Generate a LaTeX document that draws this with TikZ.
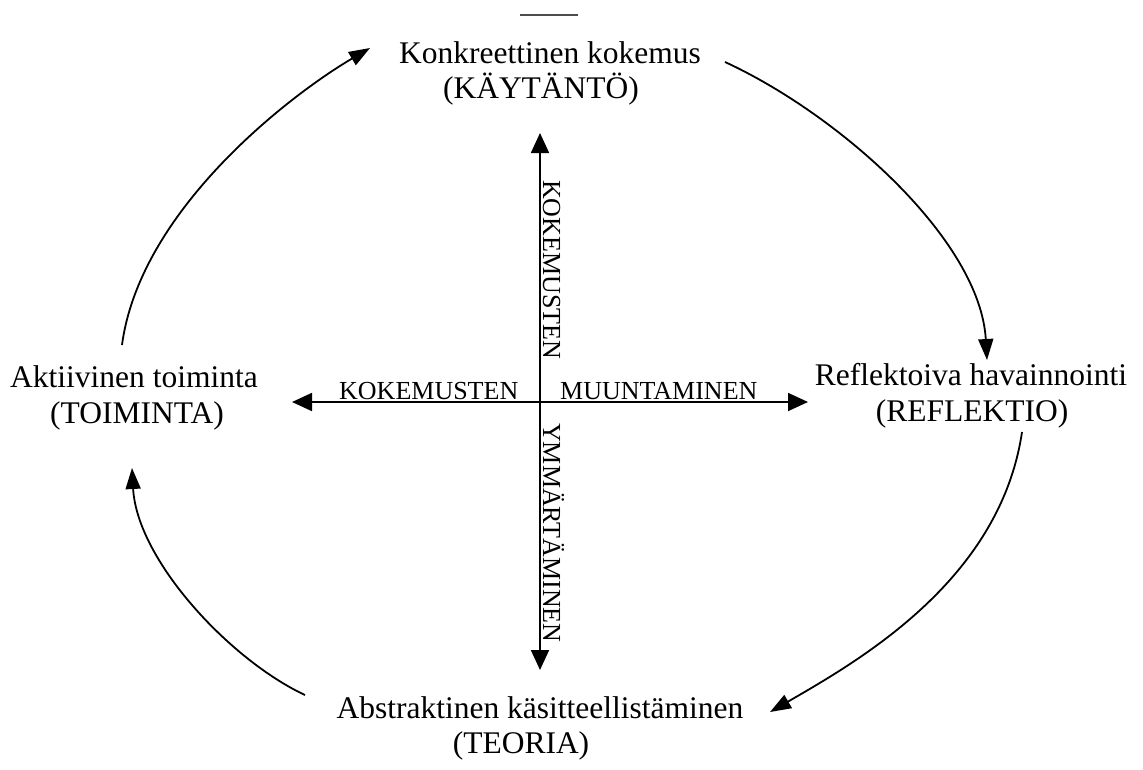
\documentclass[tikz,border=0pt]{standalone}
\usepackage{fontspec}
\setmainfont{Liberation Serif}
\usetikzlibrary{arrows.meta}
\begin{document}
\begin{tikzpicture}[x=1pt,y=-1pt,
  mode/.style={font=\fontsize{31.5}{36}\selectfont, inner sep=0pt, anchor=base},
  axislbl/.style={font=\fontsize{26}{30}\selectfont, inner sep=0pt},
  axis/.style={line width=1.8pt,
    {Triangle[length=20pt,width=18pt]}-{Triangle[length=20pt,width=18pt]}},
  cyc/.style={line width=1.8pt, -{Triangle[length=21pt,width=15pt]}}]
\useasboundingbox (0,0) rectangle (1143,769);

% short rule above the top label
\draw[line width=1.2pt, black!70] (520,15) -- (578,15);

% the four modes of the learning cycle
\node[mode] (top1) at (550,63) {Konkreettinen kokemus};
\node[mode] (top2) at (541,98) {(KÄYTÄNTÖ)};
\node[mode] (right1) at (971,385) {Reflektoiva havainnointi};
\node[mode] (right2) at (972,421) {(REFLEKTIO)};
\node[mode] (bot1) at (540,718) {Abstraktinen käsitteellistäminen};
\node[mode] (bot2) at (521,753) {(TEORIA)};
\node[mode] (left1) at (134,387) {Aktiivinen toiminta};
\node[mode] (left2) at (137,423) {(TOIMINTA)};

% axes
\coordinate (vtop) at (540,133);
\coordinate (vbot) at (540,670);
\coordinate (hleft) at (292,402);
\coordinate (hright) at (808,402);
\draw[axis] (vbot) -- (vtop);
\draw[axis] (hleft) -- (hright);

\node[axislbl, rotate=-90, anchor=base west] (kv) at (543,180) {KOKEMUSTEN};
\node[axislbl, rotate=-90, anchor=base west] (ym) at (543,423) {YMMÄRTÄMINEN};
\node[axislbl, anchor=base west] (kh) at (339,399) {KOKEMUSTEN};
\node[axislbl, anchor=base west] (mu) at (560,399) {MUUNTAMINEN};

% cycle arrows
\coordinate (a1) at (725,62);
\coordinate (a2) at (987,360);
\coordinate (b1) at (1022,432);
\coordinate (b2) at (770,712);
\coordinate (c1) at (305,695);
\coordinate (c2) at (132,468);
\coordinate (d1) at (122,345);
\coordinate (d2) at (370,48);
\draw[cyc] (a1) .. controls (840,115) and (980,240) .. (a2);
\draw[cyc] (b1) .. controls (1000,580) and (860,660) .. (b2);
\draw[cyc] (c1) .. controls (230,660) and (137,560) .. (c2);
\draw[cyc] (d1) .. controls (140,210) and (290,95) .. (d2);
\end{tikzpicture}
\end{document}
